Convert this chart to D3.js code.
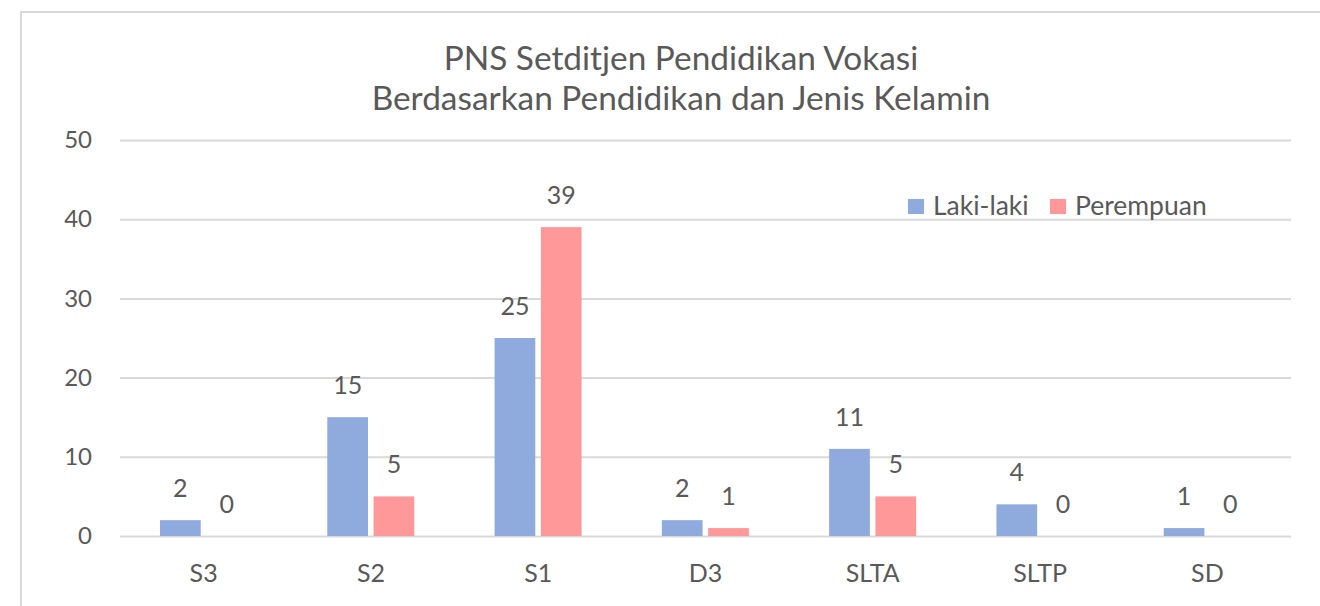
<!DOCTYPE html>
<html>
<head>
<meta charset="utf-8">
<script src="https://cdn.jsdelivr.net/npm/d3@7/dist/d3.min.js"></script>
<style>
  html, body { margin: 0; padding: 0; background: #ffffff; }
  svg { display: block; }
  text { font-family: Lato, "Open Sans", sans-serif; fill: #595959; }
</style>
</head>
<body>
<svg id="chart" width="1320" height="606"></svg>
<script>
const titleLines = ["PNS Setditjen Pendidikan Vokasi", "Berdasarkan Pendidikan dan Jenis Kelamin"];
const categories = ["S3", "S2", "S1", "D3", "SLTA", "SLTP", "SD"];
const seriesNames = ["Laki-laki", "Perempuan"];
const lakiLaki = [2, 15, 25, 2, 11, 4, 1];
const perempuan = [0, 5, 39, 1, 5, 0, 0];
const yTicks = [0, 10, 20, 30, 40, 50];
const colors = ["#8faadc", "#ff9999"];

const svg = d3.select("#chart");

// chart area border
svg.append("rect")
  .attr("x", 21).attr("y", 12)
  .attr("width", 1320).attr("height", 620)
  .attr("fill", "none").attr("stroke", "#d9d9d9").attr("stroke-width", 2);

const plot = { left: 120, right: 1291, top: 140, bottom: 536 };

const x = d3.scaleBand().domain(categories).range([plot.left, plot.right]).paddingInner(0).paddingOuter(0);
const xInner = d3.scaleBand().domain(seriesNames).range([40, 127]).paddingInner(0.12);
const y = d3.scaleLinear().domain([0, 50]).range([plot.bottom, plot.top]);

// gridlines
svg.append("g")
  .attr("transform", `translate(${plot.left},0)`)
  .call(d3.axisLeft(y).tickValues(yTicks).tickSize(-(plot.right - plot.left)).tickFormat(""))
  .call(g => g.select(".domain").remove())
  .call(g => g.selectAll("line").attr("stroke", "#d9d9d9").attr("stroke-width", 2));

// y labels
svg.append("g")
  .attr("transform", `translate(92,0)`)
  .call(d3.axisLeft(y).tickValues(yTicks).tickSize(0).tickPadding(0))
  .call(g => g.select(".domain").remove())
  .call(g => g.selectAll("text").attr("font-size", 24).attr("fill", "#595959")
     .style("font-family", "Lato, sans-serif"));

// bars
const data = categories.map((c, i) => ({ cat: c, vals: [lakiLaki[i], perempuan[i]] }));
const groups = svg.append("g").selectAll("g").data(data).join("g")
  .attr("transform", d => `translate(${x(d.cat)},0)`);

groups.selectAll("rect").data(d => d.vals.map((v, j) => ({ s: seriesNames[j], v, j })))
  .join("rect")
  .attr("x", d => xInner(d.s))
  .attr("width", xInner.bandwidth())
  .attr("y", d => y(d.v))
  .attr("height", d => y(0) - y(d.v))
  .attr("fill", d => colors[d.j]);

groups.selectAll("text.val").data(d => d.vals.map((v, j) => ({ s: seriesNames[j], v, j })))
  .join("text")
  .attr("class", "val")
  .attr("x", d => xInner(d.s) + xInner.bandwidth() / 2)
  .attr("y", d => y(d.v) - 23)
  .attr("text-anchor", "middle")
  .attr("font-size", 25)
  .text(d => d.v);

// category labels
svg.append("g")
  .attr("transform", `translate(0,${plot.bottom})`)
  .call(d3.axisBottom(x).tickSize(0).tickPadding(0))
  .call(g => g.select(".domain").remove())
  .call(g => g.selectAll("text").attr("font-size", 25).attr("fill", "#595959")
     .attr("dy", null).attr("y", 46).style("font-family", "Lato, sans-serif"));

// title
svg.append("g").selectAll("text").data(titleLines).join("text")
  .attr("x", 681)
  .attr("y", (d, i) => 70 + i * 40)
  .attr("text-anchor", "middle")
  .attr("font-size", 33.4)
  .text(d => d);

// legend
const legend = svg.append("g").attr("transform", "translate(908,199)");
const legX = [0, 142];
seriesNames.forEach((s, i) => {
  legend.append("rect").attr("x", legX[i]).attr("y", 0).attr("width", 16).attr("height", 15).attr("fill", colors[i]);
  legend.append("text").attr("x", legX[i] + 25).attr("y", 16).attr("font-size", 26.5).text(s);
});
</script>
</body>
</html>
